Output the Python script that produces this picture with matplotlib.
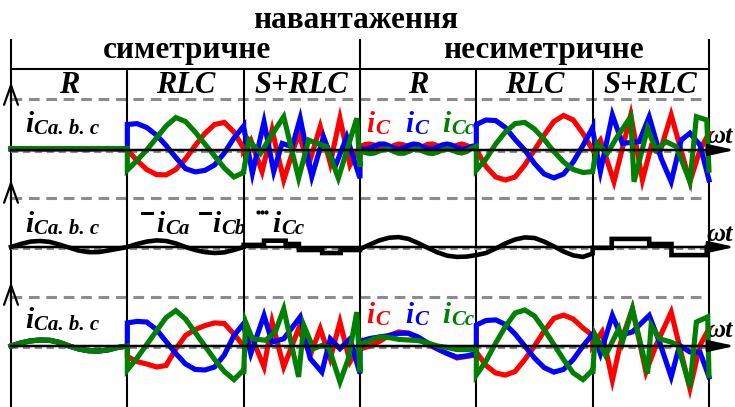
import numpy as np
import matplotlib
matplotlib.use("Agg")
import matplotlib.pyplot as plt

plt.rcParams["font.family"] = ["Liberation Serif", "DejaVu Serif"]

# ---------------------------------------------------------------- data
title = "навантаження"
groups = ["симетричне", "несиметричне"]
loads = ["R", "RLC", "S+RLC"]
axis_label = "ωt"

# Interval order: sym R, sym RLC, sym S+RLC, asym R, asym RLC, asym S+RLC.
# Smooth intervals (R, RLC) hold values sampled evenly across the interval
# (0..360 deg of ωt); switched intervals (S+RLC) hold zigzag vertices given
# as angle (deg) and value.  Values are per-unit current.

# --- top row: capacitor currents i_Ca, i_Cb, i_Cc
top_red_smooth = [
    [0.04, 0.05, 0.04, 0.03, 0.04, 0.05, 0.04, 0.03, 0.04, 0.05, 0.04, 0.03, 0.04],
    [0.0, -0.35, -0.65, -0.82, -0.83, -0.65, -0.3, 0.15, 0.55, 0.85, 0.92, 0.6, 0.05],
    [0.12, 0.18, 0.2, 0.16, 0.08, 0.04, 0.08, 0.15, 0.2, 0.17, 0.1, 0.04, 0.05,
     0.12, 0.19, 0.2, 0.14, 0.06, 0.03, 0.08, 0.16, 0.2, 0.15, 0.07, 0.02],
    [0.0, -0.55, -0.9, -1.0, -0.9, -0.5, 0.0, 0.5, 0.95, 1.15, 1.0, 0.55, 0.0],
]
top_blue_smooth = [
    [0.03, 0.04, 0.05, 0.04, 0.03, 0.04, 0.05, 0.04, 0.03, 0.04, 0.05, 0.04, 0.03],
    [0.85, 0.88, 0.75, 0.5, 0.15, -0.25, -0.62, -0.73, -0.68, -0.5, -0.1, 0.4, 0.8],
    [0.05, 0.02, 0.06, 0.13, 0.2, 0.2, 0.14, 0.06, 0.03, 0.07, 0.15, 0.2, 0.18,
     0.1, 0.04, 0.04, 0.1, 0.17, 0.2, 0.16, 0.08, 0.03, 0.05, 0.12, 0.15],
    [0.85, 1.0, 0.98, 0.75, 0.35, 0.0, -0.45, -0.8, -0.93, -0.8, -0.4, 0.15, 0.75],
]
top_green_smooth = [
    [0.05, 0.05, 0.05, 0.05, 0.05, 0.05, 0.05, 0.05, 0.05, 0.05, 0.05, 0.05, 0.05],
    [-0.67, -0.35, 0.0, 0.4, 0.8, 1.08, 0.95, 0.6, 0.2, -0.2, -0.6, -0.9, -0.75],
    [-0.02, -0.08, -0.12, -0.1, -0.03, 0.03, 0.02, -0.05, -0.11, -0.11, -0.05, 0.02, 0.03,
     -0.04, -0.1, -0.12, -0.07, 0.0, 0.04, 0.0, -0.07, -0.1, -0.05, 0.05, 0.12],
    [-0.67, -0.3, 0.2, 0.6, 0.88, 0.92, 0.7, 0.35, -0.05, -0.4, -0.65, -0.75, -0.72],
]
top_red_sw_deg = [
    [0, 22, 57, 88, 124, 170, 201, 237, 268, 298, 329, 360],
    [0, 24, 66, 118, 154, 181, 207, 243, 301, 332, 360],
]
top_red_sw_val = [
    [0.0, 0.33, -0.72, 0.67, -1.0, 0.56, -0.5, 0.78, -0.44, 1.06, -0.5, 0.11],
    [0.0, 0.33, -1.06, 1.17, -1.0, 0.11, -0.11, 1.17, -1.06, 0.0, 0.56],
]
top_blue_sw_deg = [
    [0, 27, 63, 93, 119, 150, 175, 211, 247, 283, 319, 360],
    [0, 24, 61, 92, 144, 175, 212, 243, 274, 301, 332, 360],
]
top_blue_sw_val = [
    [0.78, -0.78, 0.94, -0.72, 0.22, 0.11, 1.06, -0.89, 0.44, -0.56, 0.44, -0.94],
    [0.67, -0.72, 1.17, 0.22, 0.28, 1.11, -0.28, -1.06, 0.33, 0.56, 0.17, -1.0],
]
top_green_sw_deg = [
    [0, 16, 52, 83, 124, 170, 201, 227, 257, 293, 350, 360],
    [0, 14, 45, 76, 118, 128, 170, 196, 227, 259, 301, 321, 353, 360],
]
top_green_sw_val = [
    [-0.72, 0.33, -0.11, 0.44, 1.11, -0.94, 0.33, 0.22, 0.11, -0.94, 1.06, -0.56],
    [-0.72, 0.22, -0.11, 0.44, 1.11, -1.06, 0.72, 0.0, 0.28, 0.11, -1.06, 1.11, 1.0, -0.67],
]

# --- middle row: summed current (smooth intervals + stepped intervals)
mid_smooth = [
    [0.0, 0.1, 0.18, 0.2, 0.17, 0.08, -0.02, -0.12, -0.17, -0.17, -0.12, -0.06, 0.0],
    [0.0, 0.1, 0.18, 0.22, 0.2, 0.12, 0.0, -0.1, -0.17, -0.2, -0.18, -0.1, 0.0],
    [-0.07, 0.08, 0.22, 0.31, 0.33, 0.27, 0.13, -0.03, -0.18, -0.29, -0.33, -0.32, -0.27],
    [-0.27, -0.2, -0.05, 0.12, 0.25, 0.32, 0.3, 0.18, 0.02, -0.15, -0.28, -0.33, -0.22],
]
mid_step_edges = [
    [0, 63, 130, 171, 243, 300, 360],
    [0, 59, 175, 244, 353, 360],
]
mid_step_levels = [
    [0.07, 0.21, 0.1, -0.1, -0.2, -0.1],
    [-0.03, 0.27, 0.1, -0.27, 0.0],
]

# --- bottom row: capacitor currents after compensation
bot_red_smooth = [
    [0.0, 0.1, 0.17, 0.2, 0.19, 0.12, 0.0, -0.1, -0.16, -0.17, -0.13, -0.05, 0.0],
    [-0.35, -0.52, -0.6, -0.7, -0.65, -0.1, 0.35, 0.55, 0.68, 0.77, 0.75, 0.4, 0.0],
    [-0.1, 0.0, 0.15, 0.35, 0.47, 0.42, 0.25, 0.05, -0.1, -0.25, -0.4, -0.35, -0.3],
    [-0.2, -0.65, -0.9, -0.97, -0.85, -0.45, 0.0, 0.5, 0.92, 1.03, 0.9, 0.6, 0.35],
]
bot_blue_smooth = [
    [0.0, 0.1, 0.17, 0.2, 0.19, 0.12, 0.0, -0.1, -0.16, -0.17, -0.13, -0.05, 0.0],
    [0.77, 0.82, 0.8, 0.55, 0.15, -0.25, -0.6, -0.78, -0.8, -0.7, -0.3, 0.35, 0.75],
    [0.15, 0.25, 0.3, 0.35, 0.42, 0.43, 0.3, 0.1, -0.1, -0.25, -0.37, -0.33, -0.25],
    [0.7, 0.85, 0.87, 0.72, 0.4, 0.0, -0.4, -0.72, -0.87, -0.78, -0.45, 0.0, 0.4],
]
bot_green_smooth = [
    [0.0, 0.1, 0.17, 0.2, 0.19, 0.12, 0.0, -0.1, -0.16, -0.17, -0.13, -0.05, 0.0],
    [-0.8, -0.4, 0.05, 0.5, 0.95, 1.18, 0.9, 0.45, 0.0, -0.45, -0.85, -1.12, -0.8],
    [0.05, 0.18, 0.3, 0.28, 0.22, 0.2, 0.18, 0.1, 0.0, -0.05, -0.12, -0.12, -0.1],
    [-0.97, -0.5, 0.1, 0.65, 1.1, 1.2, 1.0, 0.55, 0.05, -0.45, -0.9, -1.12, -0.8],
]
bot_red_sw_deg = [
    [0, 27, 63, 88, 124, 170, 206, 237, 268, 298, 329, 360],
    [0, 29, 61, 87, 123, 165, 196, 243, 301, 332, 360],
]
bot_red_sw_val = [
    [0.02, 0.24, -0.7, 0.8, -0.7, 0.58, -0.31, 0.58, -0.42, 0.8, -0.53, 0.02],
    [0.02, 0.47, -1.14, 0.13, 1.24, -0.87, 0.02, 1.13, -1.42, 0.02, 0.58],
]
bot_blue_sw_deg = [
    [0, 22, 63, 88, 124, 175, 206, 242, 268, 298, 329, 360],
    [0, 24, 61, 87, 123, 175, 207, 243, 269, 301, 332, 360],
]
bot_blue_sw_val = [
    [0.69, -0.26, 1.02, 0.13, 0.24, 0.97, -0.42, -0.87, 0.24, -0.09, 0.24, -0.92],
    [0.47, -0.26, 1.02, 0.36, 0.47, 1.02, 0.13, -1.03, 0.02, -0.2, -0.2, -1.03],
]
bot_green_sw_deg = [
    [0, 6, 27, 68, 98, 124, 170, 186, 216, 242, 263, 298, 324, 350, 360],
    [0, 8, 40, 81, 92, 123, 170, 181, 207, 243, 264, 301, 321, 356, 360],
]
bot_green_sw_val = [
    [-0.92, 0.8, 0.24, 0.19, 0.47, 1.24, -1.03, 0.69, -0.09, 0.02, -0.03, -1.2, -0.42, 1.13, -0.87],
    [-0.92, 0.36, -0.31, 0.58, 0.13, 1.24, -0.92, 0.69, 0.24, 0.13, 0.02, -1.37, 0.8, 0.97, -0.98],
]

# ---------------------------------------------------------------- layout
W, H = 735, 407
X0_PX, SEG_PX = 11.0, 116.33     # left axis position and interval width
UNIT_PX = 30.0                   # pixels per 1 p.u. of current
SEG = 360.0
N_SEG = 6
SW_IDX = (2, 5)

RED, BLUE, GREEN = "#ff0000", "#0000ff", "#008000"
GRAY = "#8c8c8c"


def px2deg(p):
    return (p - X0_PX) / SEG_PX * SEG


def build(smooth, sw_deg, sw_val):
    xs, ys = [], []
    si = iter(smooth)
    wi = iter(zip(sw_deg, sw_val))
    for k in range(N_SEG):
        if k in SW_IDX:
            d, v = next(wi)
            d = np.asarray(d, float)
            v = np.asarray(v, float)
        else:
            v = np.asarray(next(si), float)
            d = np.linspace(0.0, SEG, len(v))
        xs.append(SEG * k + d)
        ys.append(v)
    return np.concatenate(xs), np.concatenate(ys)


def build_steps(smooth, edges, levels):
    xs, ys = [], []
    si = iter(smooth)
    wi = iter(zip(edges, levels))
    for k in range(N_SEG):
        if k in SW_IDX:
            e, lv = next(wi)
            e = np.asarray(e, float)
            lv = np.asarray(lv, float)
            d = np.repeat(e, 2)[1:-1]
            v = np.repeat(lv, 2)
        else:
            v = np.asarray(next(si), float)
            d = np.linspace(0.0, SEG, len(v))
        xs.append(SEG * k + d)
        ys.append(v)
    return np.concatenate(xs), np.concatenate(ys)


fig = plt.figure(figsize=(W / 100, H / 100), dpi=100)

# frame / header layer in pixel coordinates
frame = fig.add_axes([0, 0, 1, 1])
frame.set_xlim(0, W)
frame.set_ylim(H, 0)
frame.axis("off")

XLIM = (px2deg(0), px2deg(W))

# panel bands: top, bottom, zero level (pixels)
bands = [(99, 198, 150), (198, 297, 247), (297, 407, 346)]
panels = []
for top, bot, zero in bands:
    ax = fig.add_axes([0, 1 - bot / H, 1, (bot - top) / H])
    ax.set_xlim(*XLIM)
    ax.set_ylim(-(bot - zero) / UNIT_PX, (zero - top) / UNIT_PX)
    ax.axis("off")
    ax.patch.set_alpha(0)
    panels.append(ax)

# grid of the load table
seg_px = [X0_PX + k * SEG_PX for k in range(N_SEG + 1)]
for k, x in enumerate(seg_px):
    y0 = 40 if k in (0, 3, 6) else 69
    frame.plot([x, x], [y0, H], color="black", lw=1.5, zorder=3)
frame.plot([seg_px[0], seg_px[-1]], [69, 69], color="black", lw=1.5, zorder=3)
for ydash in (99, 198, 297):
    frame.plot([seg_px[0], seg_px[-1]], [ydash, ydash], color=GRAY, lw=2.2,
               ls=(0, (3.5, 2.2)), zorder=1)

# upward axis arrows on the left
for tip in (82, 180, 282):
    frame.annotate("", xy=(X0_PX, tip), xytext=(X0_PX, tip + 20),
                   arrowprops=dict(arrowstyle="->,head_length=1.4,head_width=0.5",
                                   lw=1.6, color="black", mutation_scale=10,
                                   shrinkA=0, shrinkB=0), zorder=4)

# header texts
frame.text(356, 28, title, ha="center", va="baseline", fontsize=22.5,
           fontweight="bold")
frame.text(187, 58, groups[0], ha="center", va="baseline", fontsize=22.5,
           fontweight="bold")
frame.text(543, 58, groups[1], ha="center", va="baseline", fontsize=22.5,
           fontweight="bold")
for k in range(N_SEG):
    cx = (seg_px[k] + seg_px[k + 1]) / 2
    frame.text(cx, 93, loads[k % 3], ha="center", va="baseline", fontsize=22,
               fontweight="bold", style="italic")

# waveforms
for ax, (r, b, g) in zip(
        [panels[0], panels[2]],
        [((top_red_smooth, top_red_sw_deg, top_red_sw_val),
          (top_blue_smooth, top_blue_sw_deg, top_blue_sw_val),
          (top_green_smooth, top_green_sw_deg, top_green_sw_val)),
         ((bot_red_smooth, bot_red_sw_deg, bot_red_sw_val),
          (bot_blue_smooth, bot_blue_sw_deg, bot_blue_sw_val),
          (bot_green_smooth, bot_green_sw_deg, bot_green_sw_val))]):
    for series, col, z in ((r, RED, 5), (b, BLUE, 6), (g, GREEN, 7)):
        x, y = build(*series)
        ax.plot(x, y, color=col, lw=3.7, zorder=z, clip_on=False,
                solid_joinstyle="miter")

xm, ym = build_steps(mid_smooth, mid_step_edges, mid_step_levels)
panels[1].plot(xm, ym, color="black", lw=3.3, zorder=6, clip_on=False,
               solid_joinstyle="miter")

# zero lines with ωt arrows
for ax in panels:
    ax.plot([0, SEG * N_SEG], [-0.05, -0.05], color=GRAY, lw=1.5,
            ls=(0, (3.5, 2.2)), zorder=2, clip_on=False)
    ax.annotate("", xy=(px2deg(735), 0), xytext=(0, 0),
                arrowprops=dict(arrowstyle="-|>,head_length=1.6,head_width=0.35",
                                lw=1.8, color="black", mutation_scale=10,
                                shrinkA=0, shrinkB=0),
                annotation_clip=False, zorder=8)

for yb in (143, 241, 337):
    frame.text(733, yb, axis_label, ha="right", va="baseline", fontsize=19,
               fontweight="bold", style="italic", zorder=9)


# current labels
def ilabel(x, yb, sub, color="black", big=21, small=15, dx=9, dy=2):
    frame.text(x, yb, "i", color=color, fontsize=big, fontweight="bold",
               style="italic", va="baseline", ha="left", zorder=9)
    frame.text(x + dx, yb + dy, sub, color=color, fontsize=small,
               fontweight="bold", style="italic", va="baseline", ha="left",
               zorder=9)


ilabel(25, 132, "Ca. b. c")
ilabel(25, 232, "Ca. b. c")
ilabel(25, 328, "Ca. b. c")
for yb in (132, 323):
    ilabel(366, yb, "C", RED)
    ilabel(405, yb, "C", BLUE)
    ilabel(442, yb, "Cc", GREEN)

ilabel(156, 232, "Ca")
ilabel(212, 232, "Cb")
ilabel(272, 232, "Cc")
frame.plot([142, 152], [213, 213], color="black", lw=2.2, zorder=9)
frame.plot([200, 210], [213, 213], color="black", lw=2.2, zorder=9)
frame.plot([258, 262, 266], [212, 212, 212], ls="none", marker="o", ms=2,
           color="black", zorder=9)

fig.savefig("out.png", dpi=100)
